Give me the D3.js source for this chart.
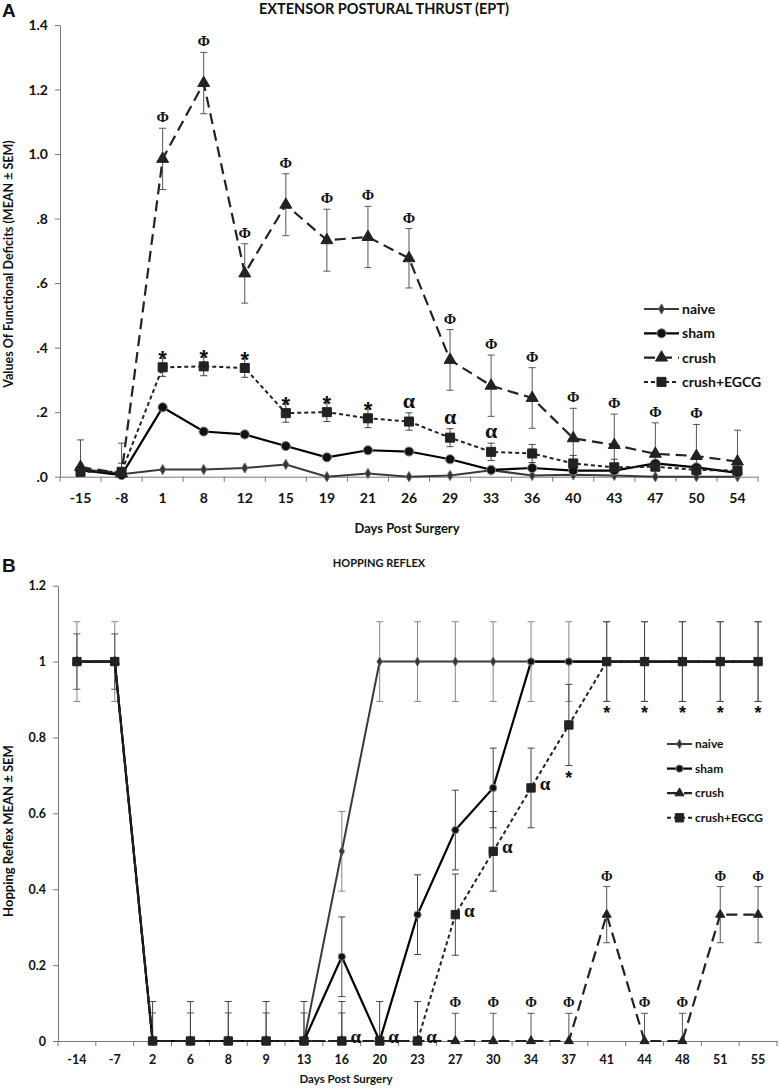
<!DOCTYPE html>
<html>
<head>
<meta charset="utf-8">
<script src="https://cdn.jsdelivr.net/npm/d3@7"></script>
<style>
  body { margin: 0; background: #fff; }
  text { font-family: Lato, "Open Sans", sans-serif; font-weight: bold; fill: #111; }
  text.sym { font-family: "Liberation Serif", "DejaVu Serif", serif; }
  text.star, text.letter { font-family: "Liberation Sans", Arial, sans-serif; }
</style>
</head>
<body>
<svg width="780" height="1088"></svg>
<script>
// Panel A - extensor postural thrust
var daysA = ["-15","-8","1","8","12","15","19","21","26","29","33","36","40","43","47","50","54"];
var naiveA = [0.025,0.008,0.022,0.022,0.027,0.038,0.0,0.01,0.0,0.004,0.02,0.004,0.006,0.004,0.0,0.0,0.0];
var shamA  = [0.02,0.005,0.215,0.14,0.131,0.095,0.06,0.082,0.078,0.054,0.021,0.027,0.019,0.019,0.041,0.029,0.012];
var crushA = [0.03,0.01,0.985,1.22,0.63,0.843,0.733,0.743,0.677,0.362,0.282,0.244,0.119,0.098,0.071,0.064,0.047];
var egcgA  = [0.015,0.015,0.339,0.342,0.337,0.197,0.2,0.181,0.171,0.121,0.077,0.072,0.041,0.029,0.031,0.021,0.019];
var crushSemA = [0.084,0.094,0.095,0.095,0.092,0.096,0.096,0.095,0.092,0.094,0.095,0.094,0.093,0.096,0.096,0.098,0.097];
var egcgSemA  = [0,0.027,0.028,0.029,0.029,0.028,0.029,0.029,0.027,0.028,0.027,0.028,0.025,0.025,0,0,0];
var zeroA = daysA.map(function() { return 0; });
var yTicksA = [0,0.2,0.4,0.6,0.8,1.0,1.2,1.4];
var phiA = ["1","8","12","15","19","21","26","29","33","36","40","43","47","50"];
var starA = ["1","8","12","15","19","21"];
var alphaA = ["26","29","33"];

// Panel B - hopping reflex
var daysB = ["-14","-7","2","6","8","9","13","16","20","23","27","30","34","37","41","44","48","51","55"];
var naiveB = [1,1,0,0,0,0,0,0.5,1,1,1,1,1,1,1,1,1,1,1];
var shamB  = [1,1,0,0,0,0,0,0.222,0,0.333,0.556,0.667,1,1,1,1,1,1,1];
var crushB = [1,1,0,0,0,0,0,0,0,0,0,0,0,0,0.333,0,0,0.333,0.333];
var egcgB  = [1,1,0,0,0,0,0,0,0,0,0.333,0.5,0.667,0.833,1,1,1,1,1];
var naiveSemB = [0.105,0.105,0,0,0,0,0,0.105,0.105,0.105,0.105,0.105,0.105,0.105,0.105,0.105,0.105,0.105,0.105];
var shamSemB  = [0,0,0,0,0,0,0,0.105,0,0.105,0.105,0.105,0,0,0,0,0,0,0];
var crushSemB = [0.073,0.073,0.074,0.074,0.074,0.074,0.074,0.074,0,0,0.073,0.073,0.073,0.073,0.074,0.073,0.073,0.074,0.074];
var egcgSemB  = [0,0,0.104,0.104,0.104,0.104,0.104,0.104,0.104,0.104,0.107,0.105,0.105,0.107,0.105,0.105,0.105,0.105,0.105];
var yTicksB = [0,0.2,0.4,0.6,0.8,1,1.2];
var phiB = ["27","30","34","37","41","44","48","51","55"];
var starB = ["37","41","44","48","51","55"];
var alphaB = ["16","20","23","27","30","34"];

var names = ["naive","sham","crush","crush+EGCG"];

// line and marker looks for every series
var looks = [
  {stroke: "#3a3a3a", width: 2, dash: null,   symbol: d3.symbolDiamond,  fill: "#333", edge: "#666", err: "#888"},
  {stroke: "#000", width: 2.2,  dash: null,   symbol: d3.symbolCircle,   fill: "#111", edge: "#888", err: "#444"},
  {stroke: "#222", width: 2.2,  dash: "11,6", symbol: d3.symbolTriangle, fill: "#222", edge: "#222", err: "#555"},
  {stroke: "#222", width: 2,    dash: "4,3",  symbol: d3.symbolSquare,   fill: "#222", edge: "#222", err: "#444"}
];

var svg = d3.select("svg");

function drawPanel(p) {
  var g = svg.append("g");
  var x = d3.scaleBand().domain(p.days).range(p.xRange),
      y = d3.scaleLinear().domain([0, p.yMax]).range(p.yRange);
  var cx = function(d) { return x(d) + x.bandwidth() / 2; };

  // Y axis
  var ya = g.append("g")
    .attr("transform", "translate(" + p.xRange[0] + ",0)")
    .call(d3.axisLeft(y).tickValues(p.yTicks).tickFormat(p.yFormat).tickSize(5).tickSizeOuter(0).tickPadding(7));
  ya.attr("font-size", p.tickFont);
  ya.selectAll("path, line").attr("stroke", "#777");

  // X axis, labels centred, ticks between categories
  var xa = g.append("g")
    .attr("transform", "translate(0," + y(0) + ")")
    .call(d3.axisBottom(x).tickSize(0).tickSizeOuter(0).tickPadding(p.xPad));
  xa.attr("font-size", p.tickFont);
  xa.select(".domain").attr("stroke", "#777");
  xa.selectAll(".sep")
    .data(p.days.concat(["end"]))
    .enter().append("line")
    .attr("class", "sep")
    .attr("x1", function(d) { return d == "end" ? x.range()[1] : x(d); })
    .attr("x2", function(d) { return d == "end" ? x.range()[1] : x(d); })
    .attr("y1", 0).attr("y2", 5)
    .attr("stroke", "#777");

  // error bars
  p.series.forEach(function(s, i) {
    var lk = looks[i];
    p.days.forEach(function(d, j) {
      var sem = p.sems[i][j];
      if (!sem) return;
      var v = s[j], hi = v + sem, lo = Math.max(0, v - sem);
      var eg = g.append("g").attr("stroke", lk.err).attr("stroke-width", 1);
      eg.append("line").attr("x1", cx(d)).attr("x2", cx(d)).attr("y1", y(lo)).attr("y2", y(hi));
      eg.append("line").attr("x1", cx(d) - 3.5).attr("x2", cx(d) + 3.5).attr("y1", y(hi)).attr("y2", y(hi));
      if (v - sem > 0)
        eg.append("line").attr("x1", cx(d) - 3.5).attr("x2", cx(d) + 3.5).attr("y1", y(lo)).attr("y2", y(lo));
    });
  });

  // lines
  var line = d3.line()
    .x(function(d, j) { return cx(p.days[j]); })
    .y(function(d) { return y(d); });
  p.series.forEach(function(s, i) {
    g.append("path")
      .datum(s)
      .attr("d", line)
      .attr("fill", "none")
      .attr("stroke", looks[i].stroke)
      .attr("stroke-width", looks[i].width)
      .attr("stroke-dasharray", looks[i].dash);
  });

  // markers
  p.series.forEach(function(s, i) {
    g.selectAll(".m" + i)
      .data(s)
      .enter().append("path")
      .attr("class", "m" + i)
      .attr("d", d3.symbol().type(looks[i].symbol).size(p.sizes[i]))
      .attr("transform", function(d, j) { return "translate(" + cx(p.days[j]) + "," + y(d) + ")"; })
      .attr("fill", looks[i].fill)
      .attr("stroke", looks[i].edge)
      .attr("stroke-width", 1);
  });

  // significance marks
  var ci = 2, ei = 3;
  g.selectAll(".phi")
    .data(p.phi).enter().append("text")
    .attr("class", "sym")
    .attr("x", cx)
    .attr("y", function(d) { var j = p.days.indexOf(d); return y(p.series[ci][j] + p.sems[ci][j]) - 6; })
    .attr("text-anchor", "middle")
    .attr("font-size", p.phiFont)
    .text("Φ");
  g.selectAll(".star")
    .data(p.star).enter().append("text")
    .attr("class", "star")
    .attr("x", cx)
    .attr("y", function(d) {
      var j = p.days.indexOf(d), v = p.series[ei][j], sem = p.sems[ei][j];
      return p.starBelow ? y(v - sem) + 18 : y(v + sem) + 8;
    })
    .attr("text-anchor", "middle")
    .attr("font-size", p.starFont)
    .text("*");
  g.selectAll(".alpha")
    .data(p.alpha).enter().append("text")
    .attr("class", "sym")
    .attr("x", function(d) { return cx(d) + p.alphaDx; })
    .attr("y", function(d) {
      var j = p.days.indexOf(d), v = p.series[ei][j], sem = p.sems[ei][j];
      return p.alphaAbove ? y(v + sem) - 5 : y(v) + 2;
    })
    .attr("text-anchor", "middle")
    .attr("font-size", p.alphaFont)
    .text("α");

  // legend
  var lg = g.append("g").attr("transform", "translate(" + p.legend[0] + "," + p.legend[1] + ")");
  names.forEach(function(n, i) {
    var row = lg.append("g").attr("transform", "translate(0," + i * p.legendStep + ")");
    row.append("line")
      .attr("x1", 0).attr("x2", p.legendLen).attr("y1", 0).attr("y2", 0)
      .attr("stroke", looks[i].stroke)
      .attr("stroke-width", looks[i].width)
      .attr("stroke-dasharray", looks[i].dash);
    row.append("path")
      .attr("d", d3.symbol().type(looks[i].symbol).size(p.sizes[i]))
      .attr("transform", "translate(" + p.legendLen / 2 + ",0)")
      .attr("fill", looks[i].fill)
      .attr("stroke", looks[i].edge);
    row.append("text")
      .attr("x", p.legendLen + 3)
      .attr("y", 0)
      .attr("dy", "0.35em")
      .attr("font-size", p.legendFont)
      .text(n);
  });

  // titles and axis labels
  g.append("text").attr("class", "letter").attr("x", 2).attr("y", p.letterY).attr("font-size", 19).text(p.letter);
  g.append("text").attr("x", p.titleX).attr("y", p.titleY).attr("text-anchor", "middle")
    .attr("font-size", p.titleFont).text(p.title);
  g.append("text").attr("x", p.xLabel[0]).attr("y", p.xLabel[1]).attr("text-anchor", "middle")
    .attr("font-size", p.xLabelFont).text("Days Post Surgery");
  g.append("text")
    .attr("transform", "translate(" + p.yLabel[0] + "," + p.yLabel[1] + ") rotate(-90)")
    .attr("text-anchor", "middle")
    .attr("font-size", p.yLabelFont)
    .text(p.yTitle);
}

drawPanel({
  days: daysA, series: [naiveA, shamA, crushA, egcgA], sems: [zeroA, zeroA, crushSemA, egcgSemA],
  xRange: [60, 758], yRange: [476.7, 25], yMax: 1.4, yTicks: yTicksA,
  yFormat: function(d) { return d3.format(".1f")(d).replace(/^0/, ""); },
  tickFont: 14, xPad: 16,
  sizes: [30, 66, 62, 82],
  phi: phiA, star: starA, alpha: alphaA, starBelow: false, alphaAbove: true, alphaDx: 0,
  phiFont: 15, starFont: 22, alphaFont: 22,
  legend: [644, 309], legendStep: 24.3, legendLen: 35, legendFont: 14,
  letter: "A", letterY: 17, title: "EXTENSOR POSTURAL THRUST (EPT)", titleX: 384, titleY: 14, titleFont: 14.5,
  xLabel: [407, 533], xLabelFont: 13,
  yLabel: [13, 264], yLabelFont: 12.5, yTitle: "Values Of Functional Deficits (MEAN ± SEM)"
});

drawPanel({
  days: daysB, series: [naiveB, shamB, crushB, egcgB], sems: [naiveSemB, shamSemB, crushSemB, egcgSemB],
  xRange: [58, 777], yRange: [1041, 585.7], yMax: 1.2, yTicks: yTicksB,
  yFormat: function(d) { return String(d); },
  tickFont: 12.5, xPad: 14,
  sizes: [24, 42, 36, 70],
  phi: phiB, star: starB, alpha: alphaB, starBelow: true, alphaAbove: false, alphaDx: 14,
  phiFont: 14, starFont: 18, alphaFont: 19,
  legend: [667, 744], legendStep: 24.6, legendLen: 25, legendFont: 12,
  letter: "B", letterY: 572, title: "HOPPING REFLEX", titleX: 379, titleY: 567, titleFont: 11,
  xLabel: [346, 1083], xLabelFont: 11.5,
  yLabel: [13, 831], yLabelFont: 13, yTitle: "Hopping Reflex MEAN ± SEM"
});
</script>
</body>
</html>
